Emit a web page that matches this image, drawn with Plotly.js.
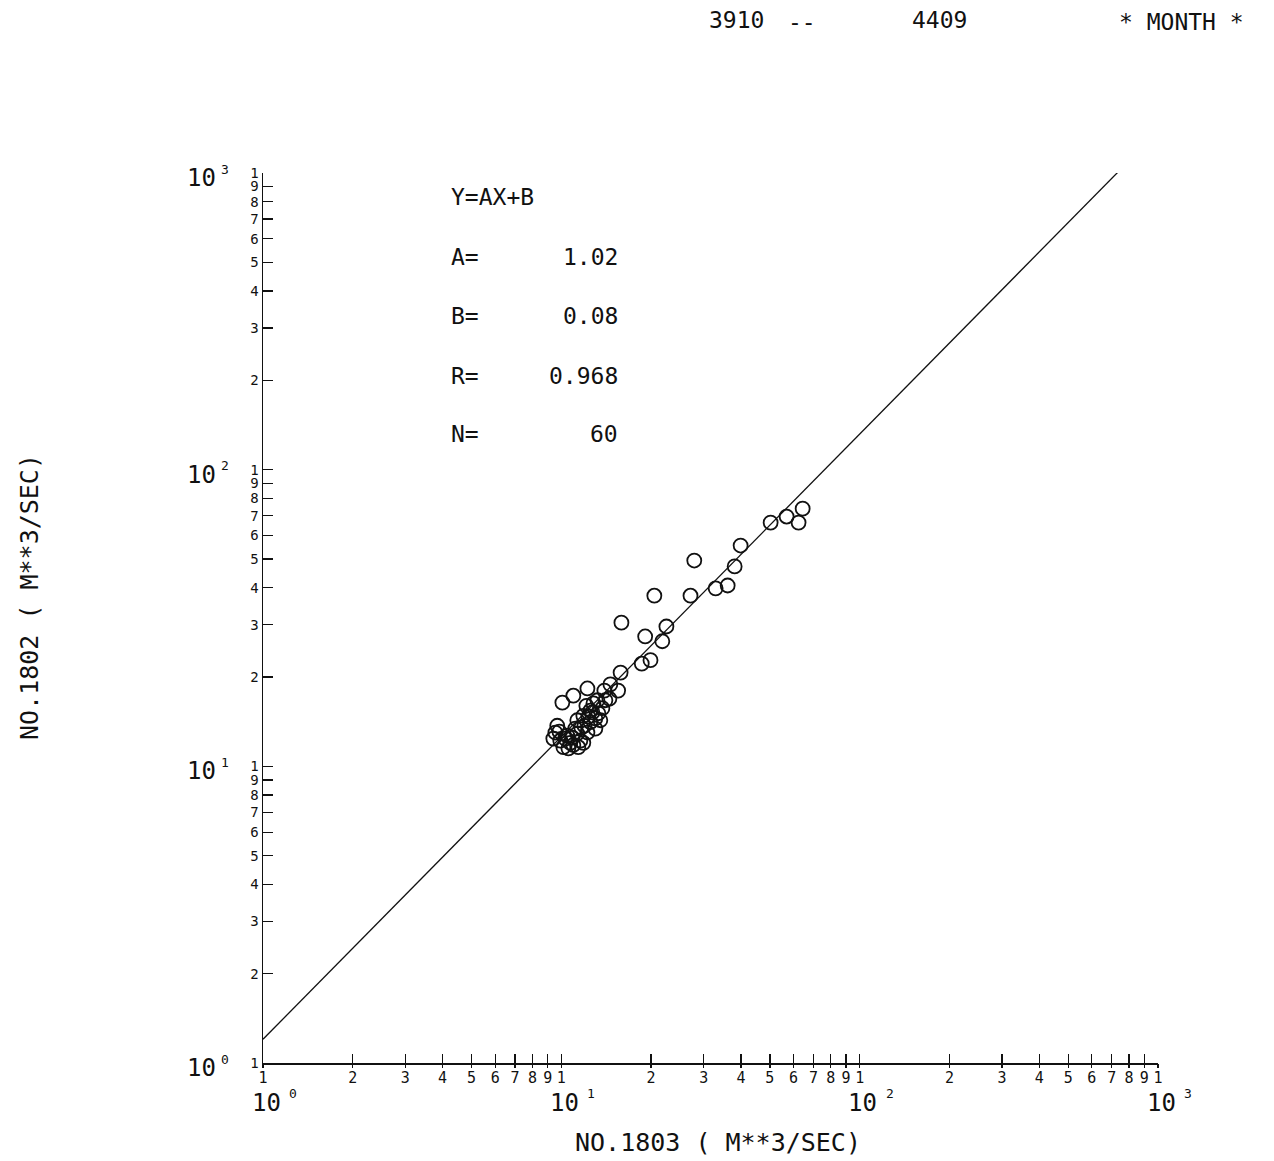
<!DOCTYPE html>
<html>
<head>
<meta charset="utf-8">
<script src="https://cdn.plot.ly/plotly-3.0.1.min.js"></script>
<style>html,body{margin:0;padding:0;background:#fff;}#chart{width:1274px;height:1161px;}</style>
</head>
<body>
<div id="chart"></div>
<script>
// NO.1803 monthly flow (m^3/s), x
var flow1803 = [64.4, 56.9, 62.4, 50.3, 39.9, 38.1, 36.1, 32.9, 27.9, 27.1,
  20.5, 22.5, 21.8, 19.1, 19.9, 18.6, 15.9, 15.8, 15.5, 14.6,
  10.08, 10.97, 12.23, 12.81, 12.51, 11.85, 13.31, 11.31, 12.51, 9.69,
  9.55, 10.47, 11.31, 12.23, 10.16, 10.97, 11.58, 9.92, 13.0, 14.05,
  13.73, 14.49, 11.95, 10.72, 10.56, 11.40, 9.40, 12.32, 13.0, 11.67,
  12.71, 13.51, 11.14, 10.31, 12.13, 13.21, 13.94, 10.89, 9.85, 11.85];
// NO.1802 monthly flow (m^3/s), y
var flow1802 = [73.9, 69.5, 66.3, 66.3, 55.5, 47.2, 40.7, 39.8, 49.4, 37.6,
  37.6, 29.6, 26.4, 27.4, 22.8, 22.2, 30.5, 20.7, 18.0, 18.9,
  16.4, 17.3, 18.3, 16.3, 15.4, 14.8, 15.1, 14.3, 14.1, 13.7,
  13.0, 12.7, 12.9, 13.0, 11.6, 11.8, 12.2, 12.2, 13.4, 16.7,
  15.7, 16.9, 13.7, 12.0, 11.5, 11.6, 12.4, 14.7, 14.5, 13.5,
  15.2, 14.3, 13.4, 12.4, 16.0, 16.7, 18.0, 12.5, 13.1, 12.0];

// regression (log-log): log Y = A log X + B
var coefA = 1.02, coefB = 0.08, coefR = 0.968, countN = 60;
var fitXEnds = [1, 740];

var tickDigits = ['1','2','3','4','5','6','7','8','9'];
var decades = [1, 10, 100];
var decadeExp = ['0','1','2','3'];
var headerParts = ['3910', '--', '4409', '* MONTH *'];

var tickVals = [], tickText = [];
decades.forEach(function(d){
  tickDigits.forEach(function(t, i){ tickVals.push((i+1)*d); tickText.push(t); });
});
tickVals.push(1000); tickText.push('1');

var fitY = fitXEnds.map(function(x){ return Math.pow(10, coefA*Math.log10(x) + coefB); });

var FONT = 'DejaVu Sans Mono, monospace';
var INK = '#111';

var traces = [
  {x: fitXEnds, y: fitY, mode: 'lines', type: 'scatter',
   line: {color: INK, width: 1.3}, hoverinfo: 'skip', showlegend: false},
  {x: flow1803, y: flow1802, mode: 'markers', type: 'scatter',
   marker: {symbol: 'circle-open', size: 14, color: INK, line: {width: 1.8, color: INK}},
   showlegend: false},
  {x: [1], y: [1], xaxis: 'x2', mode: 'markers', marker: {opacity: 0}, hoverinfo: 'skip', showlegend: false}
];

var ann = [];
function txt(text, x, y, opts){
  var a = {text: text, x: x, y: y, xref: 'paper', yref: 'paper', showarrow: false,
    font: {family: FONT, size: 23, color: INK}, xanchor: 'center', yanchor: 'middle'};
  for (var k in (opts||{})) a[k] = opts[k];
  ann.push(a);
}
// header
txt(headerParts[0], 0.5285, 1.1719);
txt(headerParts[1], 0.6022, 1.1700);
txt(headerParts[2], 0.7564, 1.1719);
txt(headerParts[3], 1.0268, 1.1700);
// stats block
var statRows = [['A=', coefA.toFixed(2), 0.9056], ['B=', coefB.toFixed(2), 0.8393],
  ['R=', coefR.toFixed(3), 0.7719], ['N=', String(countN), 0.7067]];
txt('Y=AX+B', 0.2078, 0.9730, {xanchor: 'left'});
statRows.forEach(function(r){
  txt(r[0], 0.2078, r[2], {xanchor: 'left'});
  txt(r[1], 0.3989, r[2], {xanchor: 'right'});
});
// decade labels (base "10" plus raised exponent)
decadeExp.forEach(function(e, i){
  ann.push({text: '10', x: i, y: 0, xref: 'x', yref: 'paper', xshift: 3, yshift: -40,
    showarrow: false, font: {family: FONT, size: 24, color: INK}, xanchor: 'center', yanchor: 'middle'});
  ann.push({text: e, x: i, y: 0, xref: 'x', yref: 'paper', xshift: 30, yshift: -30,
    showarrow: false, font: {family: FONT, size: 13, color: INK}, xanchor: 'center', yanchor: 'middle'});
  ann.push({text: '10', x: 0, y: i, xref: 'paper', yref: 'y', xshift: -62, yshift: -5,
    showarrow: false, font: {family: FONT, size: 24, color: INK}, xanchor: 'center', yanchor: 'middle'});
  ann.push({text: e, x: 0, y: i, xref: 'paper', yref: 'y', xshift: -38, yshift: 4,
    showarrow: false, font: {family: FONT, size: 13, color: INK}, xanchor: 'center', yanchor: 'middle'});
});
// axis titles
txt('NO.1803 ( M**3/SEC)', 0.5084, -0.0888, {font: {family: FONT, size: 25, color: INK}});
txt('NO.1802 ( M**3/SEC)', -0.2603, 0.5236, {textangle: -90, font: {family: FONT, size: 25, color: INK}});

var layout = {
  width: 1274, height: 1161,
  margin: {l: 263, r: 116, t: 173, b: 98, pad: 0},
  paper_bgcolor: '#fff', plot_bgcolor: '#fff',
  showlegend: false,
  xaxis: {type: 'log', range: [0, 3], showgrid: false, zeroline: false,
    showline: true, linecolor: INK, linewidth: 1.5,
    ticks: 'inside', ticklen: 9, tickwidth: 1.3, tickcolor: INK,
    tickmode: 'array', tickvals: tickVals, ticktext: tickText, tickangle: 0,
    tickfont: {family: FONT, size: 15, color: INK}},
  xaxis2: {type: 'log', range: [0, 3], overlaying: 'x', side: 'bottom', matches: 'x',
    showgrid: false, zeroline: false, showline: false,
    ticks: 'outside', ticklen: 4, tickwidth: 1.3, tickcolor: INK,
    tickmode: 'array', tickvals: tickVals, showticklabels: false},
  yaxis: {type: 'log', range: [0, 3], showgrid: false, zeroline: false,
    showline: true, linecolor: INK, linewidth: 1.5,
    ticks: 'inside', ticklen: 10, tickwidth: 1.3, tickcolor: INK,
    tickmode: 'array', tickvals: tickVals, ticktext: tickText,
    tickfont: {family: FONT, size: 14, color: INK}},
  annotations: ann
};

Plotly.newPlot('chart', traces, layout, {staticPlot: true});
</script>
</body>
</html>
